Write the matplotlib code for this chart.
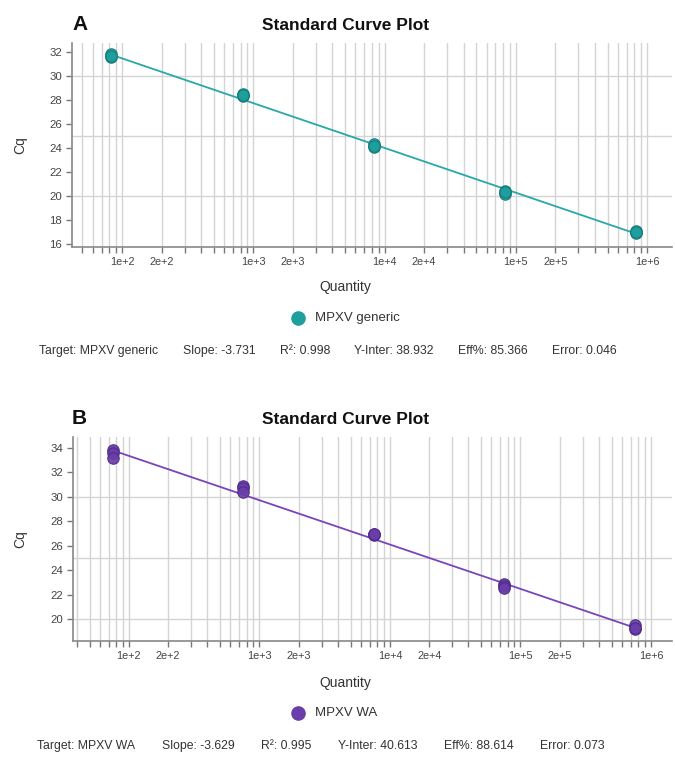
import numpy as np
import matplotlib
matplotlib.use("Agg")
import matplotlib.pyplot as plt
from matplotlib.ticker import FixedLocator, FuncFormatter
from matplotlib.lines import Line2D

plt.rcParams['font.family'] = ['Liberation Sans', 'DejaVu Sans']

# ---- data -------------------------------------------------------------
quantity_a = [83, 830, 8.3e3, 8.3e4, 8.3e5]
cq_a = [[31.6, 31.8, 31.7],
        [28.3, 28.5, 28.4],
        [24.1, 24.3, 24.2],
        [20.2, 20.4, 20.3],
        [16.9, 17.1, 17.0]]
target_a = "MPXV generic"
slope_a, r2_a, yint_a, eff_a, err_a = -3.731, 0.998, 38.932, 85.366, 0.046

quantity_b = [75, 750, 7.5e3, 7.5e4, 7.5e5]
cq_b = [[33.8, 33.6, 33.2],
        [30.9, 30.7, 30.4],
        [27.0, 26.9, 27.0],
        [22.9, 22.7, 22.5],
        [19.5, 19.2, 19.3]]
target_b = "MPXV WA"
slope_b, r2_b, yint_b, eff_b, err_b = -3.629, 0.995, 40.613, 88.614, 0.073

W, H = 675, 762
fig = plt.figure(figsize=(W / 100, H / 100), dpi=100)
renderer = fig.canvas.get_renderer()


def fx(x):
    return x / W


def fy(y):
    return 1 - y / H


def log_ticks(lo, hi):
    vals = []
    for n in range(0, 8):
        for k in range(1, 10):
            v = k * 10 ** n
            if lo <= v <= hi:
                vals.append(v)
    return vals


def tick_label(v, pos):
    n = int(np.floor(np.log10(v) + 1e-9))
    k = int(round(v / 10 ** n))
    return f"{k}e+{n}" if k in (1, 2) else ""


def stats_row(parts, x0, x1, ypx):
    """Spread the statistics strings evenly between two pixel positions."""
    texts = [fig.text(0, fy(ypx), s, fontsize=8.8, ha='left', va='center',
                      color='#333333') for s in parts]
    widths = [t.get_window_extent(renderer).width for t in texts]
    gap = (x1 - x0 - sum(widths)) / (len(parts) - 1)
    x = x0
    for t, w in zip(texts, widths):
        t.set_x(fx(x))
        x += w + gap


def panel(rect, letter, top_px, quantity, cq, slope, yint, xlim, ylim, yticks,
          fill, edge, line_color, target, stats, stats_span, legend_y, qty_y, cq_y):
    ax = fig.add_axes(rect)
    ax.set_xscale('log')
    ax.set_xlim(*xlim)
    ax.set_ylim(*ylim)

    # ticks
    xt = log_ticks(*xlim)
    ax.xaxis.set_major_locator(FixedLocator(xt))
    ax.xaxis.set_major_formatter(FuncFormatter(tick_label))
    ax.xaxis.set_minor_locator(FixedLocator([]))
    ax.yaxis.set_major_locator(FixedLocator(yticks))
    ax.tick_params(axis='both', which='major', length=4, width=1,
                   color='#777777', labelsize=7.8, labelcolor='#444444', pad=3)
    ax.tick_params(axis='y', labelsize=8.2)

    # grid: vertical at every log tick, horizontal every 5 Cq
    ax.grid(True, which='major', axis='x', color='#d4d4d4', lw=1.0)
    for g in np.arange(np.ceil(ylim[0] / 5) * 5, ylim[1], 5):
        ax.axhline(g, color='#d4d4d4', lw=1.0, zorder=0.5)
    ax.set_axisbelow(True)
    for s in ('top', 'right'):
        ax.spines[s].set_visible(False)
    for s in ('left', 'bottom'):
        ax.spines[s].set_color('#888888')
        ax.spines[s].set_linewidth(1.2)

    # fitted standard curve
    q = np.array(quantity, dtype=float)
    qfit = np.array([q.min(), q.max()])
    ax.plot(qfit, slope * np.log10(qfit) + yint, color=line_color, lw=1.3, zorder=3)

    # replicate points
    for qi, reps in zip(quantity, cq):
        ax.scatter([qi] * len(reps), reps, s=68, color=fill, edgecolors=edge,
                   linewidths=0.8, alpha=0.92, zorder=4)

    # titles and labels
    fig.text(fx(72), fy(top_px), letter, fontsize=15, fontweight='bold',
             ha='left', va='center', color='#111111')
    fig.text(fx(346), fy(top_px), "Standard Curve Plot", fontsize=12.5,
             fontweight='bold', ha='center', va='center', color='#111111')
    fig.text(fx(20), fy(cq_y), "Cq", fontsize=10, rotation=90,
             ha='center', va='center', color='#333333')
    fig.text(fx(345), fy(qty_y), "Quantity", fontsize=10,
             ha='center', va='center', color='#333333')

    # legend
    fig.add_artist(Line2D([fx(298)], [fy(legend_y)], marker='o', markersize=9.5,
                          markerfacecolor=fill, markeredgecolor=fill,
                          linestyle='none', transform=fig.transFigure))
    fig.text(fx(315), fy(legend_y), target, fontsize=9.5,
             ha='left', va='center', color='#333333')

    # statistics row
    stats_row(stats, stats_span[0], stats_span[1], legend_y + 33)
    return ax


stats_a = [f"Target: {target_a}", f"Slope: {slope_a:.3f}", f"R\u00b2: {r2_a:.3f}",
           f"Y-Inter: {yint_a:.3f}", f"Eff%: {eff_a:.3f}", f"Error: {err_a:.3f}"]
stats_b = [f"Target: {target_b}", f"Slope: {slope_b:.3f}", f"R\u00b2: {r2_b:.3f}",
           f"Y-Inter: {yint_b:.3f}", f"Eff%: {eff_b:.3f}", f"Error: {err_b:.3f}"]

panel([fx(72), fy(247), fx(600), 204 / H], "A", 25, quantity_a, cq_a, slope_a, yint_a,
      (41.6, 1.55e6), (15.75, 32.75), list(range(16, 33, 2)),
      '#1f9e9e', '#147a7a', '#2aa7a7', target_a, stats_a,
      (39, 617), 318, 287, 145)

panel([fx(73), fy(641), fx(599), 204 / H], "B", 419, quantity_b, cq_b, slope_b, yint_b,
      (37.3, 1.45e6), (18.2, 34.9), list(range(20, 35, 2)),
      '#6a3daa', '#4e2a86', '#7a45b8', target_b, stats_b,
      (37, 605), 713, 683, 539)

fig.savefig("out.png", dpi=100)
